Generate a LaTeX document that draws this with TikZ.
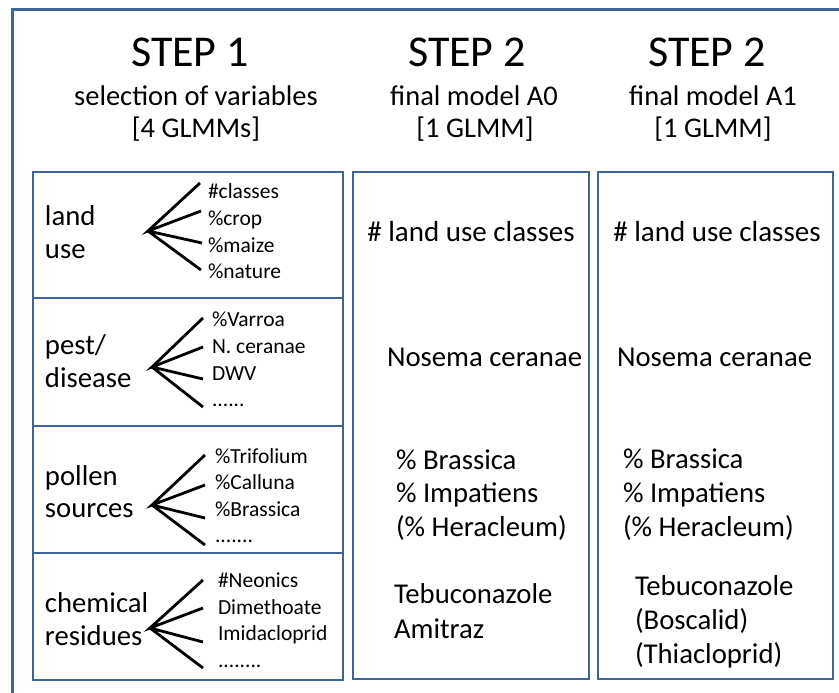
\documentclass[tikz,border=0pt]{standalone}
\usepackage{fontspec}
\setmainfont{Carlito}
\definecolor{framecol}{HTML}{3F6596}
\begin{document}
\begin{tikzpicture}[x=1pt,y=-1pt,
  every node/.style={inner sep=0pt, outer sep=0pt},
  head/.style={anchor=base, font=\fontsize{44}{53}\selectfont},
  sub/.style={anchor=base, font=\fontsize{28.5}{34}\selectfont},
  cat/.style={anchor=base west, font=\fontsize{28.7}{34}\selectfont},
  item/.style={anchor=base west, font=\fontsize{21.5}{26}\selectfont},
  res/.style={anchor=base west, font=\fontsize{28.7}{34}\selectfont},
  resc/.style={anchor=base, font=\fontsize{29}{34}\selectfont},
  boxline/.style={draw=framecol, line width=2.6pt},
  branch/.style={line width=2.8pt, line join=miter}]
\useasboundingbox (0,0) rectangle (839,693);
\fill[white] (0,0) rectangle (839,693);
\begin{scope}
  \clip (0,0) rectangle (839,693);
  \draw[draw=framecol, line width=3pt] (12,10) rectangle (860,720);
\end{scope}

% headers
\node[head] (s1) at (190,67) {STEP 1};
\node[sub] (s1a) at (196,106) {selection of variables};
\node[sub] (s1b) at (196,138) {[4 GLMMs]};
\node[head] (s2) at (467,67) {STEP 2};
\node[sub] (s2a) at (474,106) {final model A0};
\node[sub] (s2b) at (475,138) {[1 GLMM]};
\node[head] (s3) at (707,67) {STEP 2};
\node[sub] (s3a) at (713,106) {final model A1};
\node[sub] (s3b) at (713,138) {[1 GLMM]};

% boxes
\draw[boxline] (33,172) rectangle (343,298);
\draw[boxline] (33,298) rectangle (343,426);
\draw[boxline] (33,426) rectangle (343,553);
\draw[boxline] (33,553) rectangle (343,680);
\draw[boxline] (353,172) rectangle (589,679);
\draw[boxline] (598,172) rectangle (833,679);

% box 1: land use
\node[cat] (c1a) at (45,225) {land};
\node[cat] (c1b) at (45,258) {use};
\coordinate (h1) at (148,231);
\coordinate (e11) at (200,183);
\coordinate (e12) at (201,211);
\coordinate (e13) at (202,243);
\coordinate (e14) at (201,270);
\draw[branch] (e11) -- (h1) -- (e12) (h1) -- (e13) (h1) -- (e14);
\node[item] (i11) at (208,198) {\#classes};
\node[item] (i12) at (208,225) {\%crop};
\node[item] (i13) at (208,252) {\%maize};
\node[item] (i14) at (208,278) {\%nature};

% box 2: pest/disease
\node[cat] (c2a) at (45,354) {pest/};
\node[cat] (c2b) at (45,387) {disease};
\coordinate (h2) at (152,367);
\coordinate (e21) at (203,318);
\coordinate (e22) at (203,347);
\coordinate (e23) at (203,379);
\coordinate (e24) at (203,407);
\draw[branch] (e21) -- (h2) -- (e22) (h2) -- (e23) (h2) -- (e24);
\node[item] (i21) at (212,326) {\%Varroa};
\node[item] (i22) at (212,353) {N. ceranae};
\node[item] (i23) at (212,380) {DWV};
\node[item] (i24) at (212,406) {......};

% box 3: pollen sources
\node[cat] (c3a) at (45,485) {pollen};
\node[cat] (c3b) at (45,517) {sources};
\coordinate (h3) at (152,505);
\coordinate (e31) at (205,455);
\coordinate (e32) at (205,485);
\coordinate (e33) at (205,518);
\coordinate (e34) at (205,545);
\draw[branch] (e31) -- (h3) -- (e32) (h3) -- (e33) (h3) -- (e34);
\node[item] (i31) at (215,463) {\%Trifolium};
\node[item] (i32) at (215,489) {\%Calluna};
\node[item] (i33) at (215,516) {\%Brassica};
\node[item] (i34) at (215,542) {.......};

% box 4: chemical residues
\node[cat] (c4a) at (45,612) {chemical};
\node[cat] (c4b) at (45,645) {residues};
\coordinate (h4) at (150,628);
\coordinate (e41) at (203,580);
\coordinate (e42) at (203,608);
\coordinate (e43) at (203,642);
\coordinate (e44) at (203,668);
\draw[branch] (e41) -- (h4) -- (e42) (h4) -- (e43) (h4) -- (e44);
\node[item] (i41) at (218,587) {\#Neonics};
\node[item] (i42) at (218,614) {Dimethoate};
\node[item] (i43) at (218,640) {Imidacloprid};
\node[item] (i44) at (218,667) {........};

% model A0
\node[resc] (a01) at (471,241) {\# land use classes};
\node[res] (a02) at (387,366) {Nosema ceranae};
\node[res] (a03) at (396,469) {\% Brassica};
\node[res] (a04) at (396,502) {\% Impatiens};
\node[res] (a05) at (396,536) {(\% Heracleum)};
\node[res] (a06) at (394,603) {Tebuconazole};
\node[res] (a07) at (394,638) {Amitraz};

% model A1
\node[resc] (a11) at (717,241) {\# land use classes};
\node[res] (a12) at (617,366) {Nosema ceranae};
\node[res] (a13) at (623,468) {\% Brassica};
\node[res] (a14) at (623,502) {\% Impatiens};
\node[res] (a15) at (623,536) {(\% Heracleum)};
\node[res] (a16) at (635,595) {Tebuconazole};
\node[res] (a17) at (635,629) {(Boscalid)};
\node[res] (a18) at (635,663) {(Thiacloprid)};
\end{tikzpicture}
\end{document}
